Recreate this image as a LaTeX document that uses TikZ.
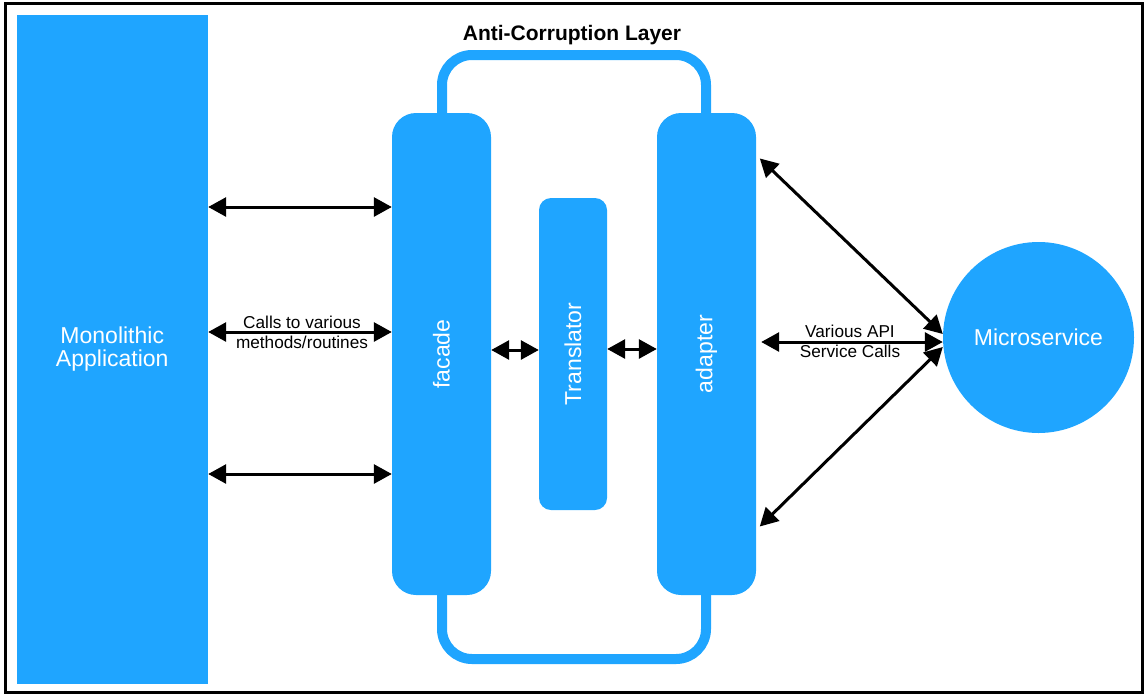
\documentclass[tikz,border=0pt]{standalone}
\usepackage{fontspec}
\setmainfont{Liberation Sans}
\usetikzlibrary{arrows.meta}
\definecolor{aclblue}{RGB}{31,165,255}
\begin{document}
\begin{tikzpicture}[x=1pt,y=-1pt,
  box/.style={fill=aclblue, draw=none, inner sep=0pt, rounded corners=24pt},
  lbl/.style={text=white, font=\fontsize{23}{22.5}\selectfont, align=center},
  tipx/.tip={Triangle[length=18pt,width=19pt]},
  arr/.style={line width=3pt, tipx-tipx},
  note/.style={font=\fontsize{17.2}{20}\selectfont, align=center}]
\useasboundingbox (0,0) rectangle (1146,694);
% frame
\draw[line width=3pt] (5.5,3.5) rectangle (1142.5,692);
% title
\node[font=\bfseries\fontsize{21}{25}\selectfont] (title) at (572,35) {Anti-Corruption Layer};
% ACL outline
\draw[aclblue, line width=10pt, rounded corners=30pt] (442,55) rectangle (706,659);
% monolith
\node[fill=aclblue, draw=none, inner sep=0pt, minimum width=191.5pt, minimum height=669.5pt, lbl] (mono) at (112.25,349.25) {Monolithic\\Application};
% facade, translator, adapter
\node[box, lbl, minimum width=99pt, minimum height=482pt] (facade) at (441.5,354) {\rotatebox{90}{facade}};
\node[box, lbl, rounded corners=12pt, minimum width=68pt, minimum height=312pt] (trans) at (573,354) {\rotatebox{90}{Translator}};
\node[box, lbl, minimum width=99pt, minimum height=482pt] (adapter) at (706.5,354) {\rotatebox{90}{adapter}};
% microservice
\node[circle, fill=aclblue, draw=none, inner sep=0pt, minimum size=191pt, lbl] (micro) at (1038.5,337.5) {Microservice};
% left arrows
\draw[arr] (mono.east |- 0,207) -- (facade.west |- 0,207);
\draw[arr] (mono.east |- 0,332) -- (facade.west |- 0,332);
\draw[arr] (mono.east |- 0,474) -- (facade.west |- 0,474);
\node[note] (calls) at (302,332) {Calls to various\\methods/routines};
% inner arrows
\draw[arr] (facade.east |- 0,350) -- (trans.west |- 0,350);
\draw[arr] (trans.east |- 0,349) -- (adapter.west |- 0,349);
% right arrows
\draw[arr, shorten <=5pt] (adapter.east |- 0,155) -- ([yshift=3.5pt]micro.west);
\draw[arr, shorten <=5pt] (adapter.east |- 0,342) -- ([yshift=-4.5pt]micro.west);
\draw[arr, shorten <=5pt] (adapter.east |- 0,530) -- ([yshift=-9.5pt]micro.west);
\node[note] (api) at (850,341) {Various API\\Service Calls};
\end{tikzpicture}
\end{document}
